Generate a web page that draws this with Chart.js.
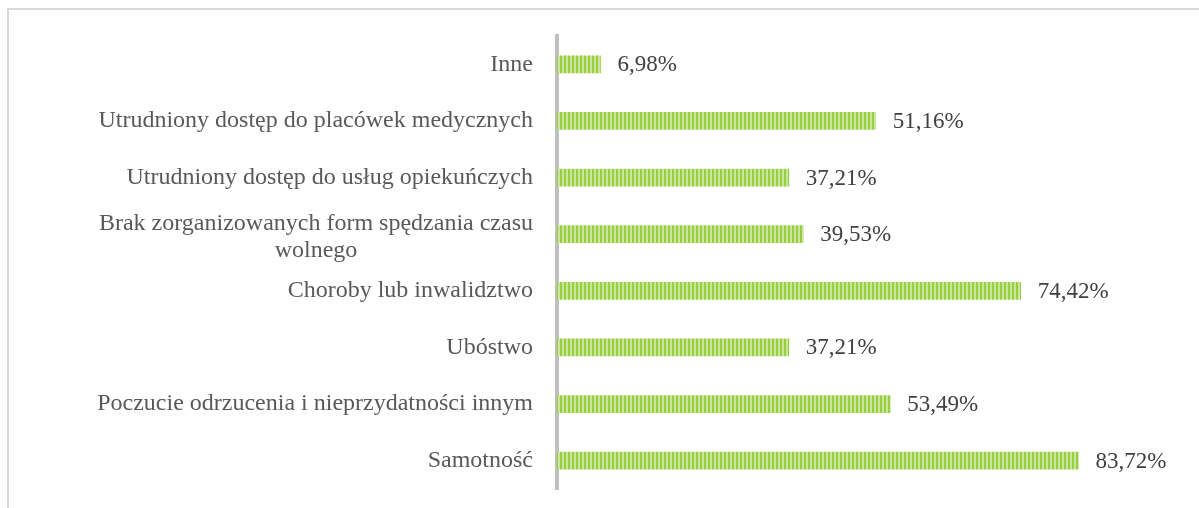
<!DOCTYPE html>
<html>
<head>
<meta charset="utf-8">
<script src="https://cdn.jsdelivr.net/npm/chart.js@4.4.1/dist/chart.umd.min.js"></script>
<style>
    html, body { margin: 0; padding: 0; background: #fff; }
    #wrap { position: relative; width: 1199px; height: 508px; overflow: hidden; }
    #frame { position: absolute; left: 7px; top: 8px; width: 1300px; height: 600px; border: 2px solid #d9d9d9; box-sizing: border-box; }
    #myChart { position: absolute; left: 0; top: 0; }
</style>
</head>
<body>
<div id="wrap">
    <div id="frame"></div>
    <canvas id="myChart" width="1199" height="508"></canvas>
</div>
<script>
// Data (top to bottom)
const categories = [
    'Inne',
    'Utrudniony dostęp do placówek medycznych',
    'Utrudniony dostęp do usług opiekuńczych',
    ['Brak zorganizowanych form spędzania czasu', 'wolnego'],
    'Choroby lub inwalidztwo',
    'Ubóstwo',
    'Poczucie odrzucenia i nieprzydatności innym',
    'Samotność'
];
const values = [6.98, 51.16, 37.21, 39.53, 74.42, 37.21, 53.49, 83.72];

const FONT = '"Liberation Serif", "Times New Roman", serif';

// Striped green fill like the original
function stripePattern() {
    const c = document.createElement('canvas');
    c.width = 4; c.height = 4;
    const g = c.getContext('2d');
    g.fillStyle = '#98cf40';
    g.fillRect(0, 0, 4, 4);
    g.fillStyle = '#c9e69c';
    g.fillRect(2, 0, 2, 4);
    return g.createPattern(c, 'repeat');
}

// Value labels right of each bar
const valueLabels = {
    id: 'valueLabels',
    afterDatasetsDraw(chart) {
        const ctx = chart.ctx;
        const meta = chart.getDatasetMeta(0);
        ctx.save();
        ctx.font = '23px ' + FONT;
        ctx.fillStyle = '#404040';
        ctx.textAlign = 'left';
        ctx.textBaseline = 'middle';
        meta.data.forEach((bar, i) => {
            const txt = values[i].toFixed(2).replace('.', ',') + '%';
            ctx.fillText(txt, bar.x + 17, bar.y + 1);
        });
        ctx.restore();
    }
};

// Category labels (multi-line ones centered like in Excel)
const catLabels = {
    id: 'catLabels',
    afterDraw(chart) {
        const ctx = chart.ctx;
        const y = chart.scales.y;
        const right = 533;
        const lh = 27;
        ctx.save();
        ctx.font = '24px ' + FONT;
        ctx.fillStyle = '#595959';
        ctx.textBaseline = 'middle';
        categories.forEach((lab, i) => {
            const cy = y.getPixelForTick(i);
            const lines = Array.isArray(lab) ? lab : [lab];
            const maxW = Math.max(...lines.map(l => ctx.measureText(l).width));
            const top = cy - (lines.length - 1) * lh / 2;
            lines.forEach((l, k) => {
                ctx.textAlign = lines.length > 1 ? 'center' : 'right';
                const x = lines.length > 1 ? right - maxW / 2 : right;
                ctx.fillText(l, x, top + k * lh + (lines.length > 1 ? 3 : 0));
            });
        });
        ctx.restore();
    }
};

const ctx = document.getElementById('myChart').getContext('2d');
new Chart(ctx, {
    type: 'bar',
    data: {
        labels: categories,
        datasets: [{
            data: values,
            backgroundColor: stripePattern(),
            borderWidth: 0,
            barThickness: 17
        }]
    },
    options: {
        indexAxis: 'y',
        responsive: false,
        animation: false,
        layout: { padding: { top: 36, bottom: 19, right: 19, left: 0 } },
        plugins: {
            legend: { display: false },
            tooltip: { enabled: false }
        },
        scales: {
            x: {
                display: false,
                min: 0,
                max: 100
            },
            y: {
                grid: { display: false, drawTicks: false },
                border: { display: true, color: '#bfbfbf', width: 4 },
                ticks: { display: false },
                afterFit(scale) { scale.width = 557; }
            }
        }
    },
    plugins: [valueLabels, catLabels]
});
</script>
</body>
</html>
